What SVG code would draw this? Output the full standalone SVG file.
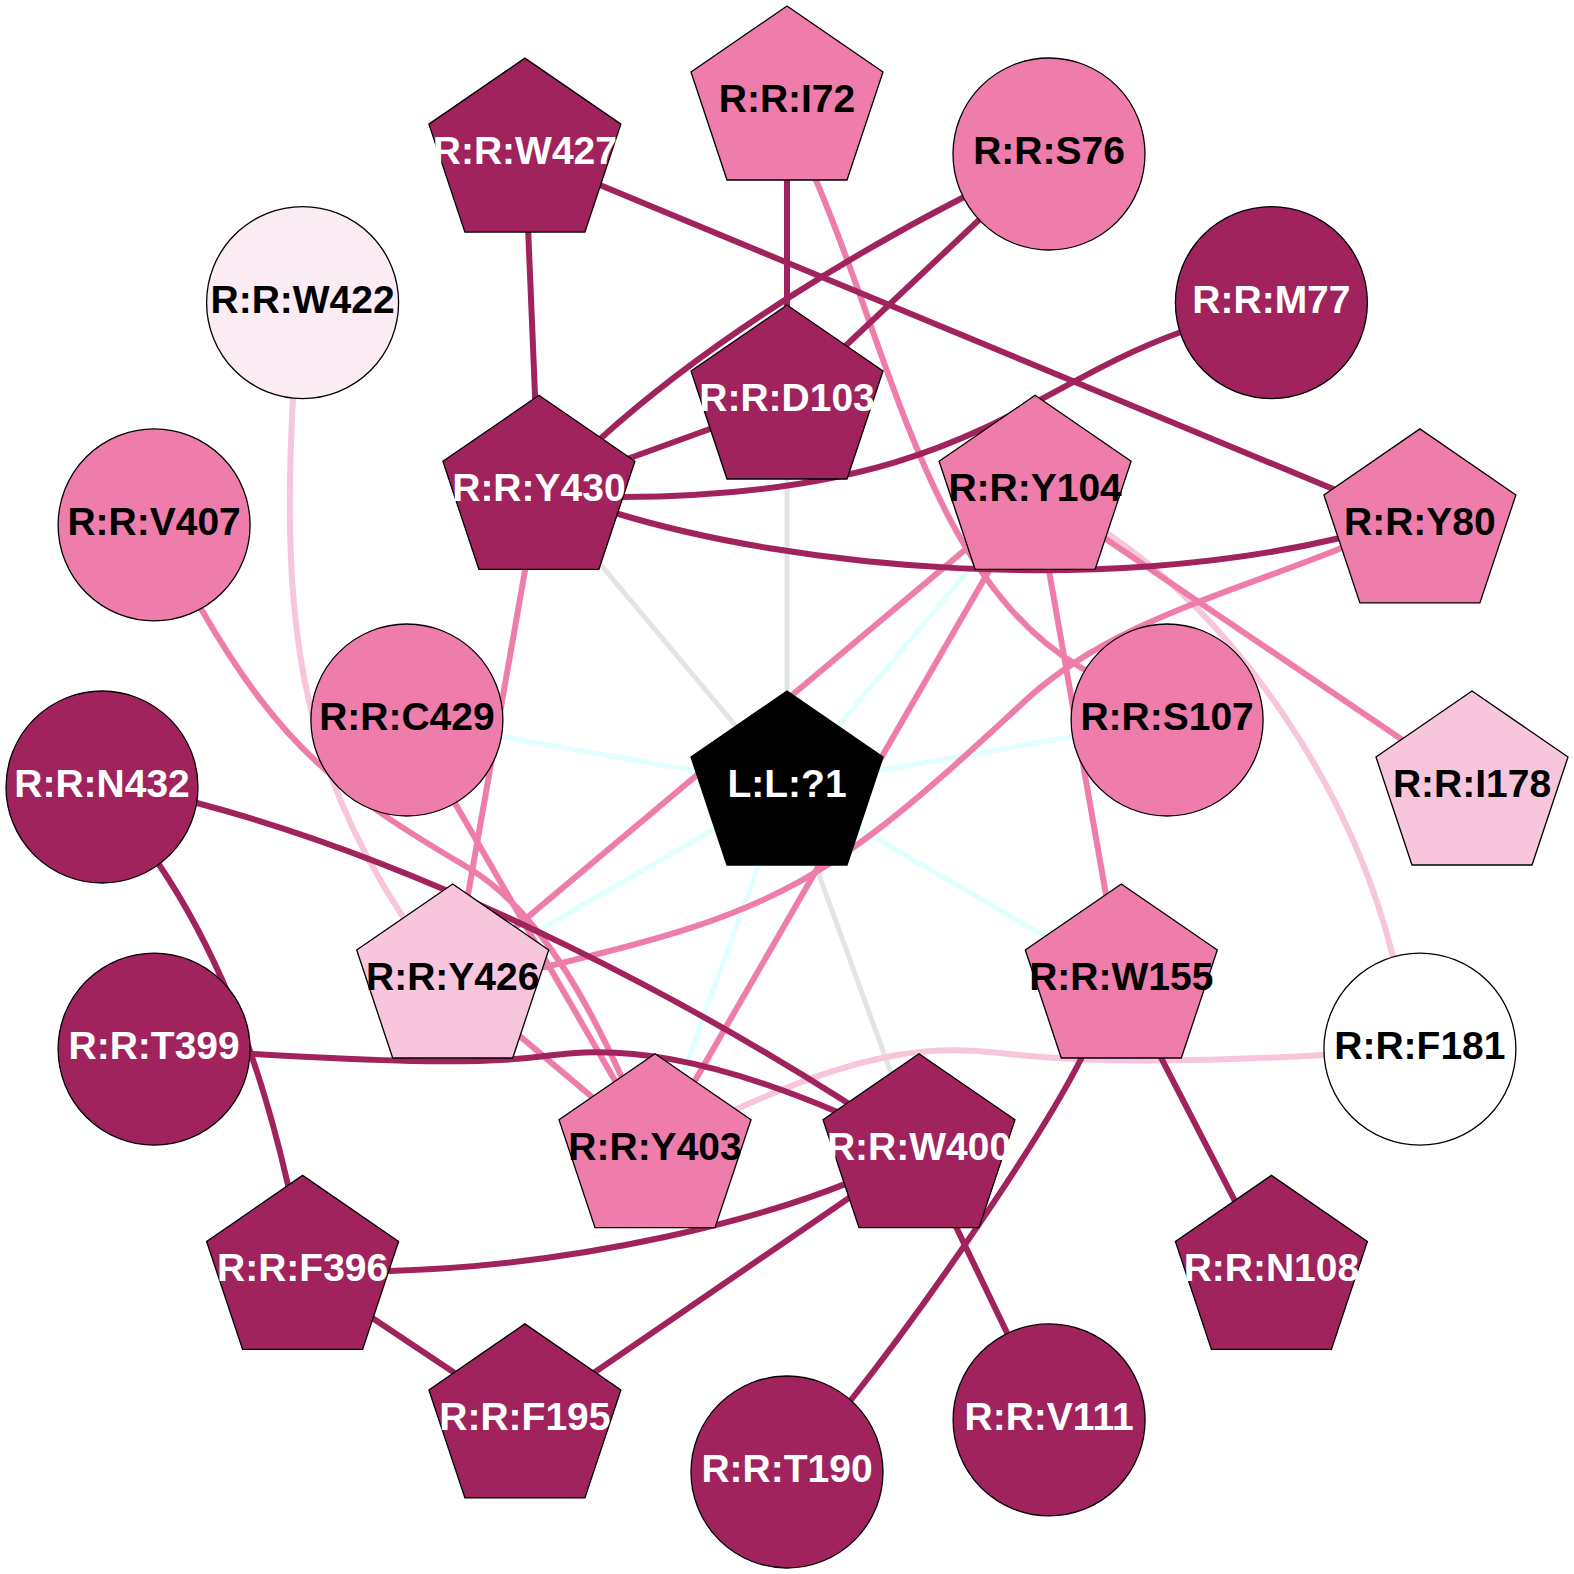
<svg xmlns="http://www.w3.org/2000/svg" xmlns:xlink="http://www.w3.org/1999/xlink" width="1574" height="1574" viewBox="0 0 1574 1574">
<style>
.dk{fill:#a0235e}.pk{fill:#ef7dab}.lt{fill:#f8c6dc}.vl{fill:#fbebf3}.wh{fill:#ffffff}.bk{fill:#000000}
.node circle,.node use{stroke:#000;stroke-width:1.3}
.node text{font-family:"Liberation Sans",Arial,sans-serif;font-weight:bold;font-size:39px;text-anchor:middle}
.tw{fill:#fff}.tb{fill:#000}
#edges path{fill:none;stroke-width:6}
#edges .ed{stroke:#a0235e}#edges .ep{stroke:#ef7dab}#edges .el{stroke:#f8c6dc}
#edges .eg{stroke:#e3e3e3;stroke-width:5}#edges .ec{stroke:#e0ffff;stroke-width:5}
</style>
<defs>
<path id="pent" d="M0,-96 L96,-30 L60,78 L-60,78 L-96,-30 Z"/>
</defs>
<rect width="1574" height="1574" fill="#fff"/>
<g id="edges">
<path class="ec" d="M787,787 L407,720"/>
<path class="ec" d="M787,787 L1167,720"/>
<path class="ec" d="M787,787 L1035,491"/>
<path class="ec" d="M787,787 L453,980"/>
<path class="ec" d="M787,787 L1121,980"/>
<path class="ec" d="M787,787 L655,1150"/>
<path class="eg" d="M539,491 L787,787"/>
<path class="eg" d="M787,401 L787,787"/>
<path class="eg" d="M787,787 L919,1150"/>
<path class="el" d="M1035,491 L1107,533 C1240,623 1350,788 1392,953 L1420,1049"/>
<path class="el" d="M302.6,302.6 L293,398 C281,620 300,760 403,917 L453,980"/>
<path class="el" d="M1420,1049 L1324,1055 C1200,1062 1080,1063 1000,1053 C940,1045.5 870,1048 737,1109 L655,1150"/>
<path class="ep" d="M787,102 L815,178 C890,350 930,580 1080,667 L1167,720"/>
<path class="ep" d="M539,491 L453,980"/>
<path class="ep" d="M1035,491 L1121,980"/>
<path class="ep" d="M1035,491 L1472,787"/>
<path class="ep" d="M1035,491 L453,980"/>
<path class="ep" d="M1035,491 L655,1150"/>
<path class="ep" d="M1420,525 L1344,547 C1237,591 1110,622 1026,700 C829,884 778,912 545,967 L453,980"/>
<path class="ep" d="M154,525 L200,607 C282,750 345,795 467,867 C540,910 590,1007 623,1080 L655,1150"/>
<path class="ep" d="M407,720 L655,1150"/>
<path class="ep" d="M453,980 L655,1150"/>
<path class="ed" d="M787,102 L787,401"/>
<path class="ed" d="M1049,154 L787,401"/>
<path class="ed" d="M1049,154 L964,197 C880,240 720,330 599,440 L539,491"/>
<path class="ed" d="M525,154 L539,491"/>
<path class="ed" d="M525,154 L1420,525"/>
<path class="ed" d="M787,401 L539,491"/>
<path class="ed" d="M1271,303 L1181,332 C1020,390 960,495 622,497 L539,491"/>
<path class="ed" d="M539,491 L612,512 C800,570 1100,595 1340,538 L1420,525"/>
<path class="ed" d="M102,787 L158,863 C210,940 255,1040 288,1185 L302.6,1271"/>
<path class="ed" d="M102,787 L197,803 C439,867 712,1009 919,1150"/>
<path class="ed" d="M154,1049 L253,1054 C360,1060 470,1066 545,1056 C600,1049 700,1040 919,1150"/>
<path class="ed" d="M919,1150 C780,1225 560,1266 390,1271 L302.6,1271.4"/>
<path class="ed" d="M919,1150 L525,1420"/>
<path class="ed" d="M302.6,1271.4 L525,1420"/>
<path class="ed" d="M919,1150 L1049,1420"/>
<path class="ed" d="M1121,980 L1081,1059 C1040,1140 930,1300 851,1400 L787,1472"/>
<path class="ed" d="M1121,980 L1271,1271"/>
</g>
<g id="nodes">
<g id="n-S76" class="node" transform="translate(1049,154)"><circle r="96" class="pk"/><text y="10" class="tb">R:R:S76</text></g>
<g id="n-M77" class="node" transform="translate(1271.4,302.6)"><circle r="96" class="dk"/><text y="10" class="tw">R:R:M77</text></g>
<g id="n-W422" class="node" transform="translate(302.6,302.6)"><circle r="96" class="vl"/><text y="10" class="tb">R:R:W422</text></g>
<g id="n-V407" class="node" transform="translate(154.1,524.9)"><circle r="96" class="pk"/><text y="10" class="tb">R:R:V407</text></g>
<g id="n-C429" class="node" transform="translate(406.9,720)"><circle r="96" class="pk"/><text y="10" class="tb">R:R:C429</text></g>
<g id="n-S107" class="node" transform="translate(1167.1,720)"><circle r="96" class="pk"/><text y="10" class="tb">R:R:S107</text></g>
<g id="n-N432" class="node" transform="translate(102,787)"><circle r="96" class="dk"/><text y="10" class="tw">R:R:N432</text></g>
<g id="n-T399" class="node" transform="translate(154.1,1049.1)"><circle r="96" class="dk"/><text y="10" class="tw">R:R:T399</text></g>
<g id="n-F181" class="node" transform="translate(1419.9,1049.1)"><circle r="96" class="wh"/><text y="10" class="tb">R:R:F181</text></g>
<g id="n-T190" class="node" transform="translate(787,1472)"><circle r="96" class="dk"/><text y="10" class="tw">R:R:T190</text></g>
<g id="n-V111" class="node" transform="translate(1049.1,1419.9)"><circle r="96" class="dk"/><text y="10" class="tw">R:R:V111</text></g>
<g id="n-I72" class="node" transform="translate(787,102)"><use href="#pent" xlink:href="#pent" class="pk"/><text y="10" class="tb">R:R:I72</text></g>
<g id="n-W427" class="node" transform="translate(524.9,154.1)"><use href="#pent" xlink:href="#pent" class="dk"/><text y="10" class="tw">R:R:W427</text></g>
<g id="n-D103" class="node" transform="translate(787,401)"><use href="#pent" xlink:href="#pent" class="dk"/><text y="10" class="tw">R:R:D103</text></g>
<g id="n-Y430" class="node" transform="translate(538.9,491.3)"><use href="#pent" xlink:href="#pent" class="dk"/><text y="10" class="tw">R:R:Y430</text></g>
<g id="n-Y104" class="node" transform="translate(1035.1,491.3)"><use href="#pent" xlink:href="#pent" class="pk"/><text y="10" class="tb">R:R:Y104</text></g>
<g id="n-Y80" class="node" transform="translate(1419.9,524.9)"><use href="#pent" xlink:href="#pent" class="pk"/><text y="10" class="tb">R:R:Y80</text></g>
<g id="n-I178" class="node" transform="translate(1472,787)"><use href="#pent" xlink:href="#pent" class="lt"/><text y="10" class="tb">R:R:I178</text></g>
<g id="n-L1" class="node" transform="translate(787,787)"><use href="#pent" xlink:href="#pent" class="bk"/><text y="10" class="tw">L:L:?1</text></g>
<g id="n-Y426" class="node" transform="translate(452.7,980)"><use href="#pent" xlink:href="#pent" class="lt"/><text y="10" class="tb">R:R:Y426</text></g>
<g id="n-W155" class="node" transform="translate(1121.3,980)"><use href="#pent" xlink:href="#pent" class="pk"/><text y="10" class="tb">R:R:W155</text></g>
<g id="n-Y403" class="node" transform="translate(655,1149.7)"><use href="#pent" xlink:href="#pent" class="pk"/><text y="10" class="tb">R:R:Y403</text></g>
<g id="n-W400" class="node" transform="translate(919,1149.7)"><use href="#pent" xlink:href="#pent" class="dk"/><text y="10" class="tw">R:R:W400</text></g>
<g id="n-F396" class="node" transform="translate(302.6,1271.4)"><use href="#pent" xlink:href="#pent" class="dk"/><text y="10" class="tw">R:R:F396</text></g>
<g id="n-N108" class="node" transform="translate(1271.4,1271.4)"><use href="#pent" xlink:href="#pent" class="dk"/><text y="10" class="tw">R:R:N108</text></g>
<g id="n-F195" class="node" transform="translate(524.9,1419.9)"><use href="#pent" xlink:href="#pent" class="dk"/><text y="10" class="tw">R:R:F195</text></g>
</g>
</svg>
